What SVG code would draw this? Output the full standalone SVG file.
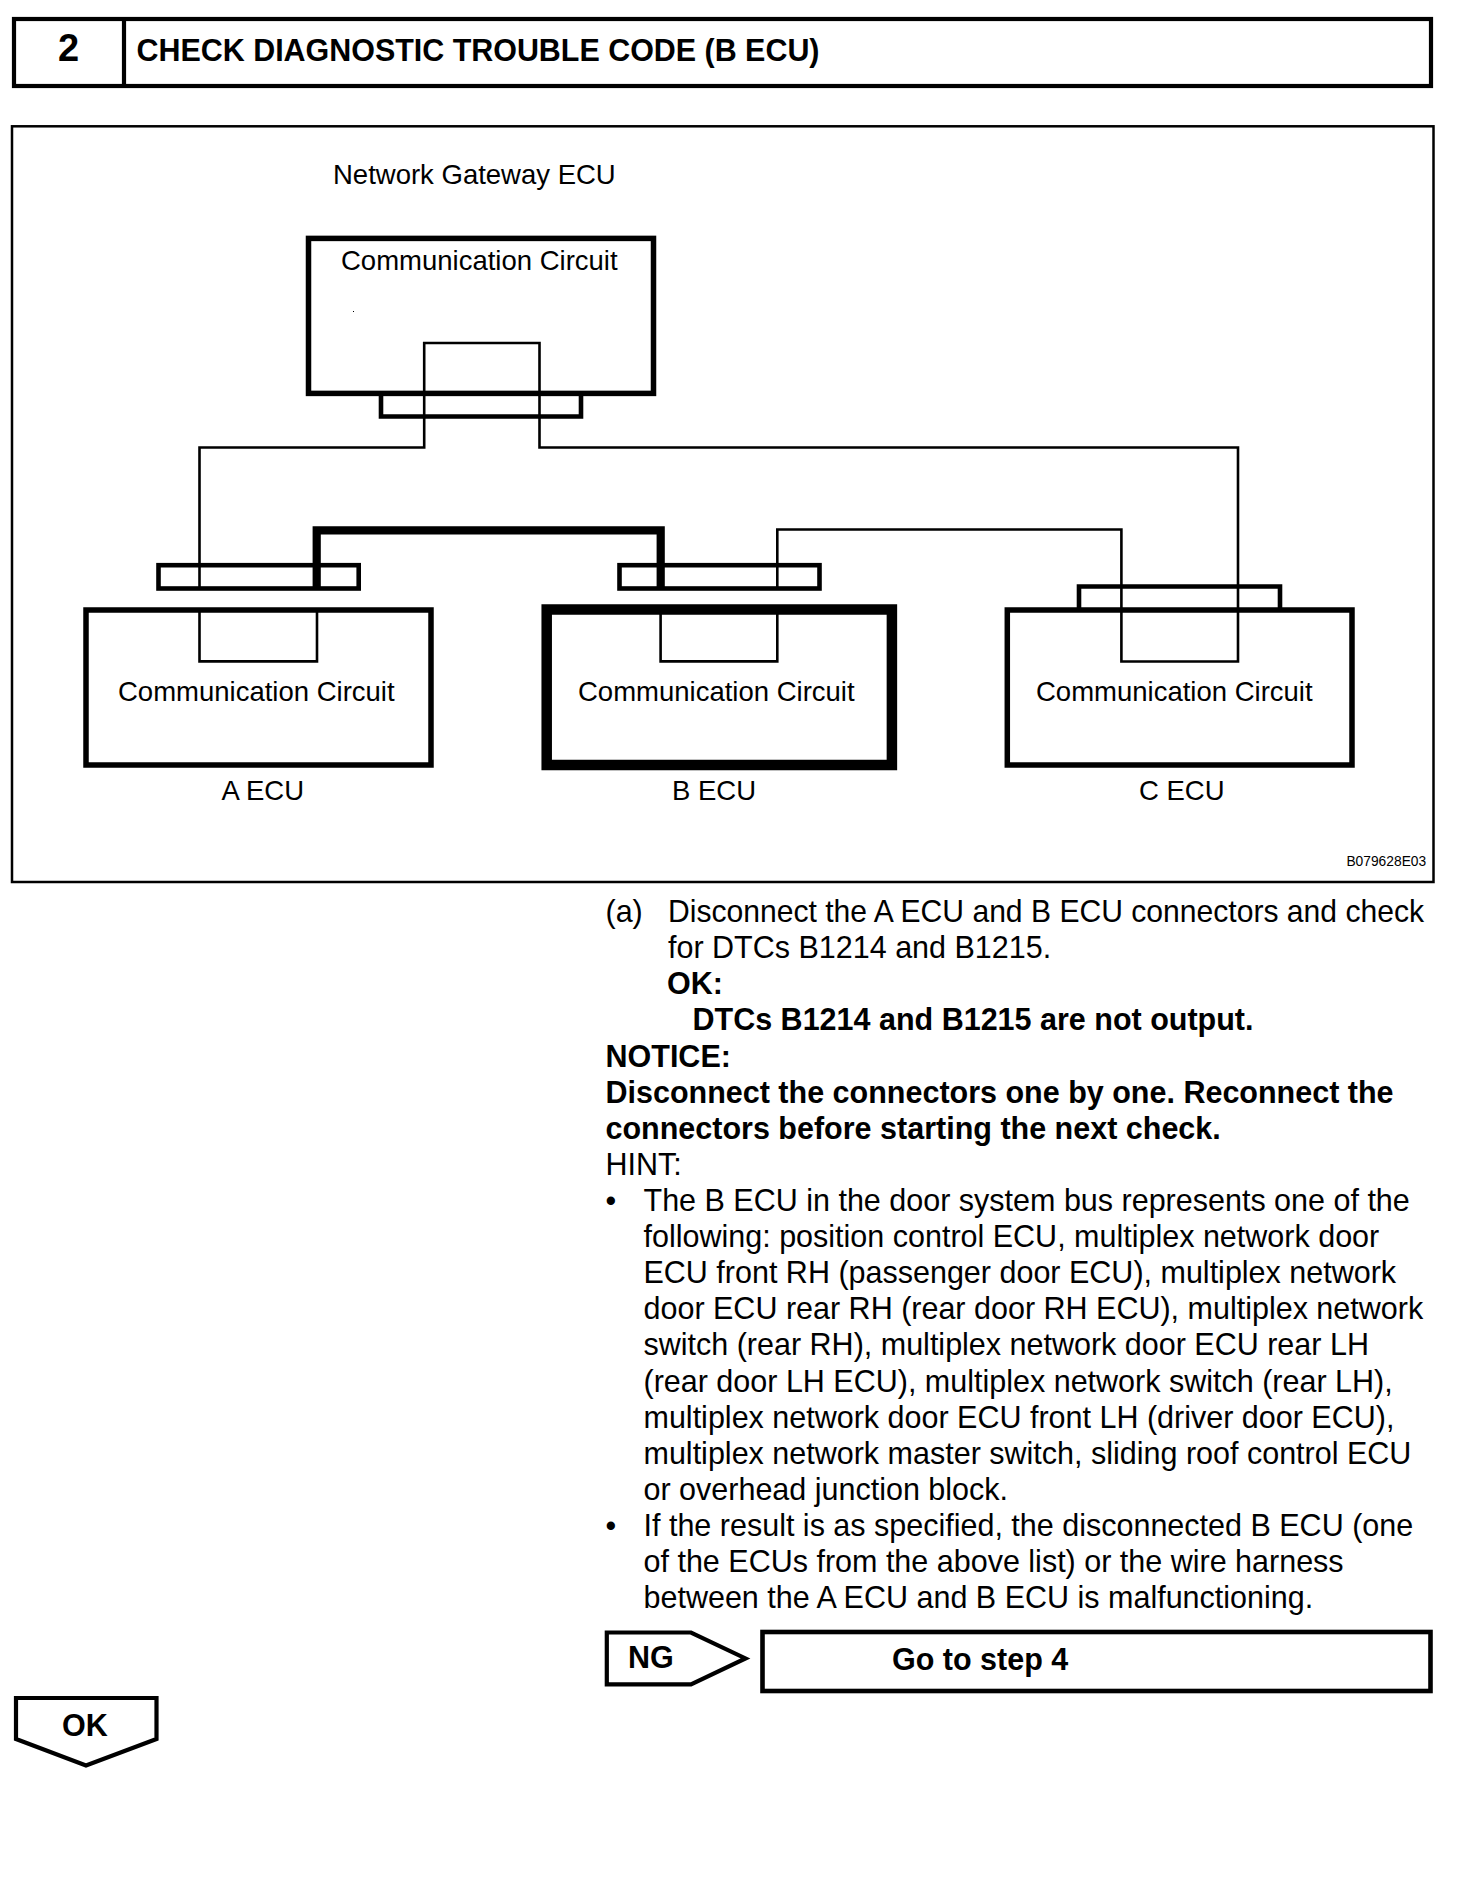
<svg xmlns="http://www.w3.org/2000/svg" width="1472" height="1880" viewBox="0 0 1472 1880">
<style>
text{font-family:"Liberation Sans",Arial,sans-serif;fill:#000}
.b{font-weight:700}
.lbl{font-size:27.5px}
.body{font-size:30.5px}
.bb{font-size:30.5px;font-weight:700}
.box{fill:none;stroke:#000;stroke-width:5.5}
.con{fill:none;stroke:#000;stroke-width:4.6}
.wire{fill:none;stroke:#000;stroke-width:2.6}
.hdr{fill:none;stroke:#000;stroke-width:4.2}
</style>
<rect width="1472" height="1880" fill="#fff"/>
<g id="header">
<rect class="hdr" x="14" y="19" width="1417" height="67"/>
<path class="hdr" d="M124 19V86"/>
<text class="b" x="58" y="61" font-size="38">2</text>
<text class="b" x="136.5" y="60.7" font-size="30.5" textLength="683" lengthAdjust="spacingAndGlyphs">CHECK DIAGNOSTIC TROUBLE CODE (B ECU)</text>
</g>
<rect id="frame" x="12" y="126.3" width="1421.5" height="755.7" fill="none" stroke="#000" stroke-width="2.5"/>
<text id="gateway-title" class="lbl" x="333" y="183.5">Network Gateway ECU</text>
<g id="gateway-ecu">
<rect class="box" x="308.5" y="238.4" width="345" height="155"/>
<text class="lbl" x="341" y="270.2">Communication Circuit</text>
<rect x="353" y="311" width="1" height="1" fill="#000"/>
</g>
<g id="a-ecu">
<rect class="box" x="86" y="610" width="345" height="155"/>
<text class="lbl" x="118" y="701.2">Communication Circuit</text>
<text class="lbl" x="221.5" y="800">A ECU</text>
</g>
<g id="b-ecu">
<rect x="546.7" y="609.5" width="345.2" height="155.5" fill="none" stroke="#000" stroke-width="10.5"/>
<text class="lbl" x="578" y="701.2">Communication Circuit</text>
<text class="lbl" x="672" y="800">B ECU</text>
</g>
<g id="c-ecu">
<rect class="box" x="1007.3" y="610" width="344.7" height="155"/>
<text class="lbl" x="1036" y="701.2">Communication Circuit</text>
<text class="lbl" x="1139" y="800">C ECU</text>
</g>
<g id="connectors">
<path class="con" d="M381 393V416.5H581V393"/>
<rect class="con" x="158.5" y="565.2" width="200.2" height="23.3"/>
<rect class="con" x="619.5" y="565.2" width="200" height="23.3"/>
<path class="con" d="M1079 610V586.5H1280V610"/>
<path class="wire" d="M199.5 588.5V447.5H424.2V343H539.5V447.5H1238V661.5H1121.4V529.5H777.3V588.5"/>
<path class="wire" d="M199.5 610V661.4H317V610"/>
<path class="wire" d="M660.6 610V661.4H777.3V610"/>
<path d="M316.7 588.5V530.3H660.7V588.5" fill="none" stroke="#000" stroke-width="8.2"/>
</g>
<text id="figure-code" x="1346.4" y="865.7" font-size="13.8">B079628E03</text>
<g id="instructions">
<text class="body" x="605.5" y="922">(a)</text>
<text class="body" x="668" y="922" textLength="756" lengthAdjust="spacingAndGlyphs">Disconnect the A ECU and B ECU connectors and check</text>
<text class="body" x="668" y="958.1">for DTCs B1214 and B1215.</text>
<text class="bb" x="667" y="994.2">OK:</text>
<text class="bb" x="692.5" y="1030.3">DTCs B1214 and B1215 are not output.</text>
<text class="bb" x="605.5" y="1066.8">NOTICE:</text>
<text class="bb" x="605.5" y="1102.7">Disconnect the connectors one by one. Reconnect the</text>
<text class="bb" x="605.5" y="1138.8">connectors before starting the next check.</text>
<text class="body" x="605.5" y="1174.9">HINT:</text>
<text class="body" x="605.5" y="1211">•</text>
<text class="body" x="643.5" y="1211">The B ECU in the door system bus represents one of the</text>
<text class="body" x="643.5" y="1247.1">following: position control ECU, multiplex network door</text>
<text class="body" x="643.5" y="1283.2">ECU front RH (passenger door ECU), multiplex network</text>
<text class="body" x="643.5" y="1319.3">door ECU rear RH (rear door RH ECU), multiplex network</text>
<text class="body" x="643.5" y="1355.4">switch (rear RH), multiplex network door ECU rear LH</text>
<text class="body" x="643.5" y="1391.5">(rear door LH ECU), multiplex network switch (rear LH),</text>
<text class="body" x="643.5" y="1427.6">multiplex network door ECU front LH (driver door ECU),</text>
<text class="body" x="643.5" y="1463.7">multiplex network master switch, sliding roof control ECU</text>
<text class="body" x="643.5" y="1499.9">or overhead junction block.</text>
<text class="body" x="605.5" y="1536.3">•</text>
<text class="body" x="643.5" y="1536.3">If the result is as specified, the disconnected B ECU (one</text>
<text class="body" x="643.5" y="1572.4">of the ECUs from the above list) or the wire harness</text>
<text class="body" x="643.5" y="1608.4">between the A ECU and B ECU is malfunctioning.</text>
</g>
<g id="ng">
<path class="hdr" d="M606.8 1632.5H691L745.5 1658.4L691 1684.3H606.8Z"/>
<text class="bb" x="628" y="1667.5">NG</text>
</g>
<g id="go-step-4">
<rect class="con" x="762.5" y="1632" width="668" height="59"/>
<text class="bb" x="892" y="1670">Go to step 4</text>
</g>
<g id="ok">
<path class="hdr" d="M16 1698V1739L86 1765.5L156.5 1739V1698Z"/>
<text class="bb" x="62" y="1735.7">OK</text>
</g>
</svg>
